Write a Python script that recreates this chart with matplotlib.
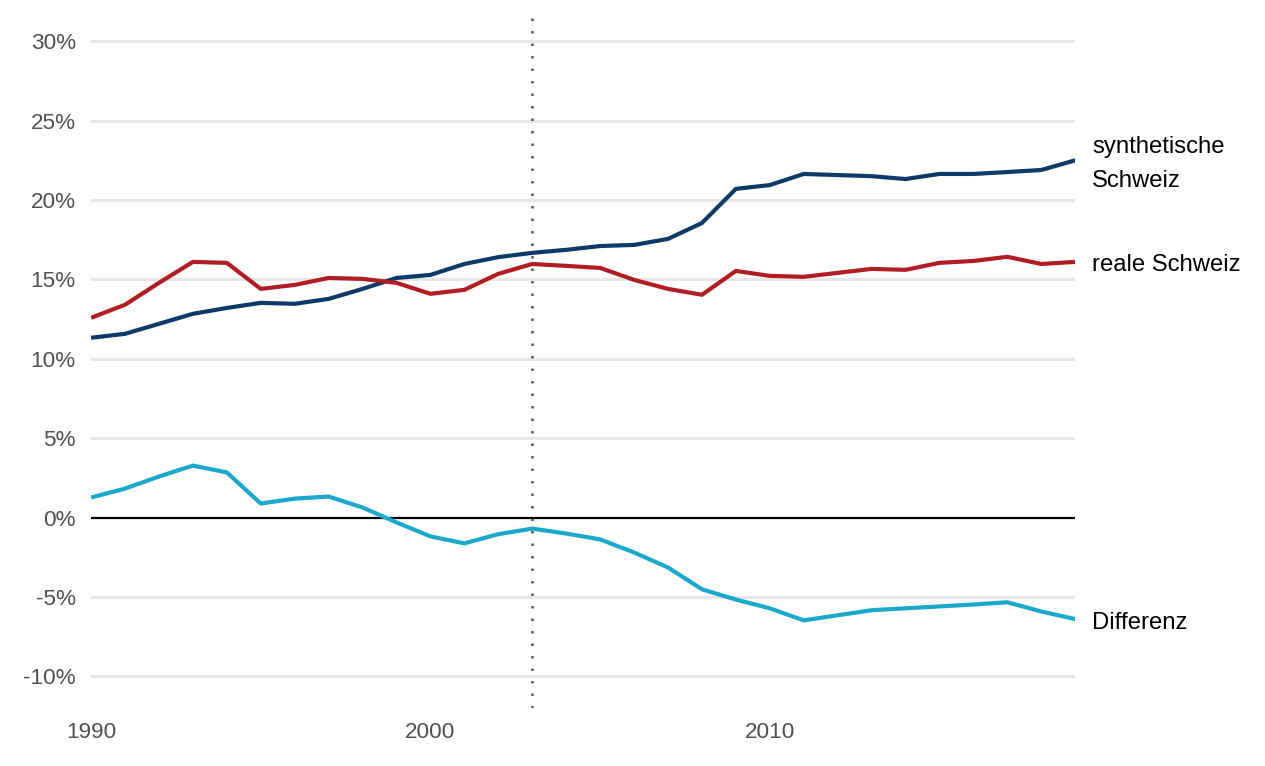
import numpy as np
import matplotlib
matplotlib.use("Agg")
import matplotlib.pyplot as plt

plt.rcParams['font.family'] = ['Liberation Sans', 'DejaVu Sans']

# data (percent)
years = list(range(1990, 2020))

synth = [11.32, 11.57, 12.2, 12.83, 13.2, 13.52, 13.46, 13.77, 14.4, 15.09,
         15.28, 15.97, 16.4, 16.67, 16.86, 17.1, 17.17, 17.55, 18.55, 20.7,
         20.94, 21.64, 21.57, 21.5, 21.32, 21.64, 21.64, 21.76, 21.89, 22.5]

real = [12.58, 13.4, 14.78, 16.1, 16.04, 14.4, 14.65, 15.09, 15.03, 14.78,
        14.09, 14.34, 15.35, 15.97, 15.85, 15.72, 14.97, 14.4, 14.03, 15.53,
        15.22, 15.16, 15.41, 15.66, 15.6, 16.04, 16.16, 16.42, 15.97, 16.1]

diff = [1.26, 1.82, 2.58, 3.27, 2.84, 0.88, 1.19, 1.32, 0.63, -0.31,
        -1.19, -1.63, -1.05, -0.7, -1.01, -1.38, -2.2, -3.15, -4.52, -5.17,
        -5.72, -6.48, -6.16, -5.84, -5.72, -5.6, -5.48, -5.34, -5.92, -6.4]

treatment_year = 2003
yticks = [-10, -5, 0, 5, 10, 15, 20, 25, 30]
xticks = [1990, 2000, 2010]

c_synth = "#0d3a66"
c_real = "#b01e23"
c_diff = "#1ba8cb"

fig = plt.figure(figsize=(12.65, 7.66), dpi=100)
ax = fig.add_axes([0.072, 0.0757, 0.778, 0.914])

for y in yticks:
    if y != 0:
        ax.axhline(y, color="#e6e6e6", lw=2.2, zorder=0)
ax.axhline(0, color="black", lw=1.6, zorder=1)
ax.axvline(treatment_year, color="#555555", lw=1.8, ls=(0, (1, 4)), zorder=1)

ax.plot(years, synth, color=c_synth, lw=3, solid_capstyle="butt", zorder=3)
ax.plot(years, real, color=c_real, lw=3, solid_capstyle="butt", zorder=3)
ax.plot(years, diff, color=c_diff, lw=3, solid_capstyle="butt", zorder=3)

# end labels
lab_kw = dict(textcoords="offset points", xytext=(12, -2.5), va="center",
              ha="left", fontsize=17.2, color="black", annotation_clip=False)
ax.annotate("synthetische\nSchweiz", (years[-1], synth[-1]), linespacing=1.7, **lab_kw)
ax.annotate("reale Schweiz", (years[-1], real[-1]), **lab_kw)
ax.annotate("Differenz", (years[-1], diff[-1]), **lab_kw)

ax.set_xlim(1990, 2019)
ax.set_ylim(-12, 32.1)
ax.set_xticks(xticks)
ax.set_yticks(yticks)
ax.set_yticklabels([f"{t}%" for t in yticks])
ax.tick_params(length=0, labelsize=16.2, labelcolor="#505050")
ax.tick_params(axis="y", pad=11)
ax.tick_params(axis="x", pad=10)
for s in ax.spines.values():
    s.set_visible(False)

fig.savefig("out.png", dpi=100, facecolor="white")
